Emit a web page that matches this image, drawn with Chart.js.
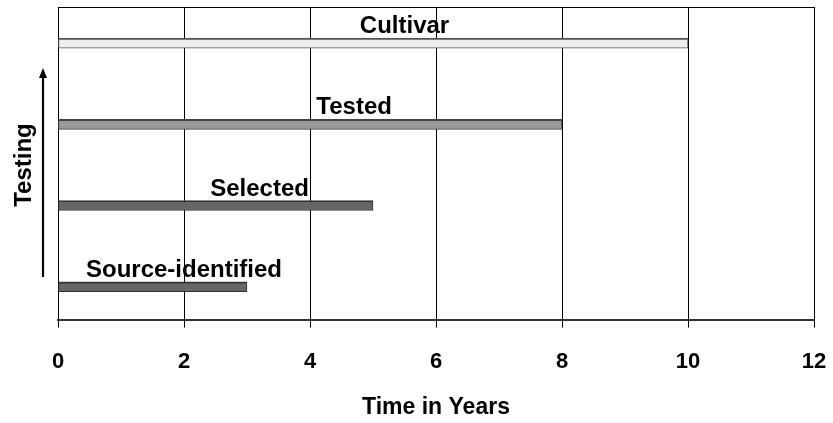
<!DOCTYPE html>
<html>
<head>
<meta charset="utf-8">
<script src="https://cdn.jsdelivr.net/npm/chart.js@4.4.1/dist/chart.umd.min.js"></script>
<style>
    html, body { margin:0; padding:0; background:#fff; }
    #wrap { width:833px; height:423px; }
</style>
</head>
<body>
<div id="wrap"><canvas id="timeChart"></canvas></div>
<script>
// stages, bottom to top
const stages = ['Source-identified', 'Selected', 'Tested', 'Cultivar'];
const years = [3, 5, 8, 10];
const xTicks = [0, 2, 4, 6, 8, 10, 12];
// where each stage label is centred, in years
const labelAt = [2.0, 3.2, 4.7, 5.5];

const fills = ['#666666', '#666666', '#999999', '#eeeeee'];
const edges = ['#333333', '#333333', '#444444', '#555555'];
const FONT = '"Liberation Sans", Arial, sans-serif';

// frame, stage labels and the "Testing" arrow
const extras = {
    id: 'extras',
    afterDatasetsDraw(chart) {
        const ctx = chart.ctx, a = chart.chartArea;
        const xs = chart.scales.x;
        ctx.save();
        ctx.strokeStyle = '#000';
        ctx.lineWidth = 1;
        ctx.beginPath();
        ctx.moveTo(a.left, a.top + 0.5);
        ctx.lineTo(a.right, a.top + 0.5);
        ctx.stroke();

        ctx.fillStyle = '#000';
        ctx.font = 'bold 24px ' + FONT;
        ctx.textAlign = 'center';
        ctx.textBaseline = 'alphabetic';
        const meta = chart.getDatasetMeta(0);
        stages.forEach((s, i) => {
            const bar = meta.data[i];
            ctx.fillText(s, xs.getPixelForValue(labelAt[i]), bar.y - bar.height / 2 - 5);
        });

        // axis arrow
        const ax = 43, yTop = 68, yBot = 277;
        ctx.lineWidth = 2.2;
        ctx.beginPath();
        ctx.moveTo(ax, yBot);
        ctx.lineTo(ax, yTop + 8);
        ctx.stroke();
        ctx.beginPath();
        ctx.moveTo(ax, yTop);
        ctx.lineTo(ax - 4, yTop + 10);
        ctx.lineTo(ax + 4, yTop + 10);
        ctx.closePath();
        ctx.fill();

        ctx.translate(24, 165);
        ctx.rotate(-Math.PI / 2);
        ctx.textBaseline = 'middle';
        ctx.fillText('Testing', 0, 0);
        ctx.restore();
    }
};

new Chart(document.getElementById('timeChart').getContext('2d'), {
    type: 'bar',
    data: {
        datasets: [{
            data: years.map((v, i) => ({ x: v, y: i })),
            backgroundColor: fills,
            borderColor: edges,
            borderWidth: { top: 2, bottom: 1, left: 1, right: 1 },
            borderSkipped: false,
            barThickness: 10
        }]
    },
    options: {
        indexAxis: 'y',
        responsive: true,
        maintainAspectRatio: false,
        animation: false,
        layout: { padding: { left: 58, right: 19, top: 7, bottom: 0 } },
        plugins: { legend: { display: false }, tooltip: { enabled: false } },
        scales: {
            x: {
                type: 'linear',
                min: 0, max: 12,
                afterBuildTicks: (s) => { s.ticks = xTicks.map(v => ({ value: v })); },
                afterFit: (s) => { s.paddingLeft = 0; s.paddingRight = 0; },
                grid: { color: '#000', lineWidth: 1, tickLength: 8, tickColor: '#000' },
                border: { color: '#333', width: 2 },
                ticks: { color: '#000', padding: 21, font: { family: FONT, size: 22, weight: 'bold' } },
                title: {
                    display: true, text: 'Time in Years', color: '#000',
                    padding: { top: 0, bottom: 4 },
                    font: { family: FONT, size: 23, weight: 'bold', lineHeight: 1 }
                }
            },
            y: {
                type: 'linear',
                display: false,
                offset: false,
                min: -0.405, max: 3.445
            }
        }
    },
    plugins: [extras]
});
</script>
</body>
</html>
